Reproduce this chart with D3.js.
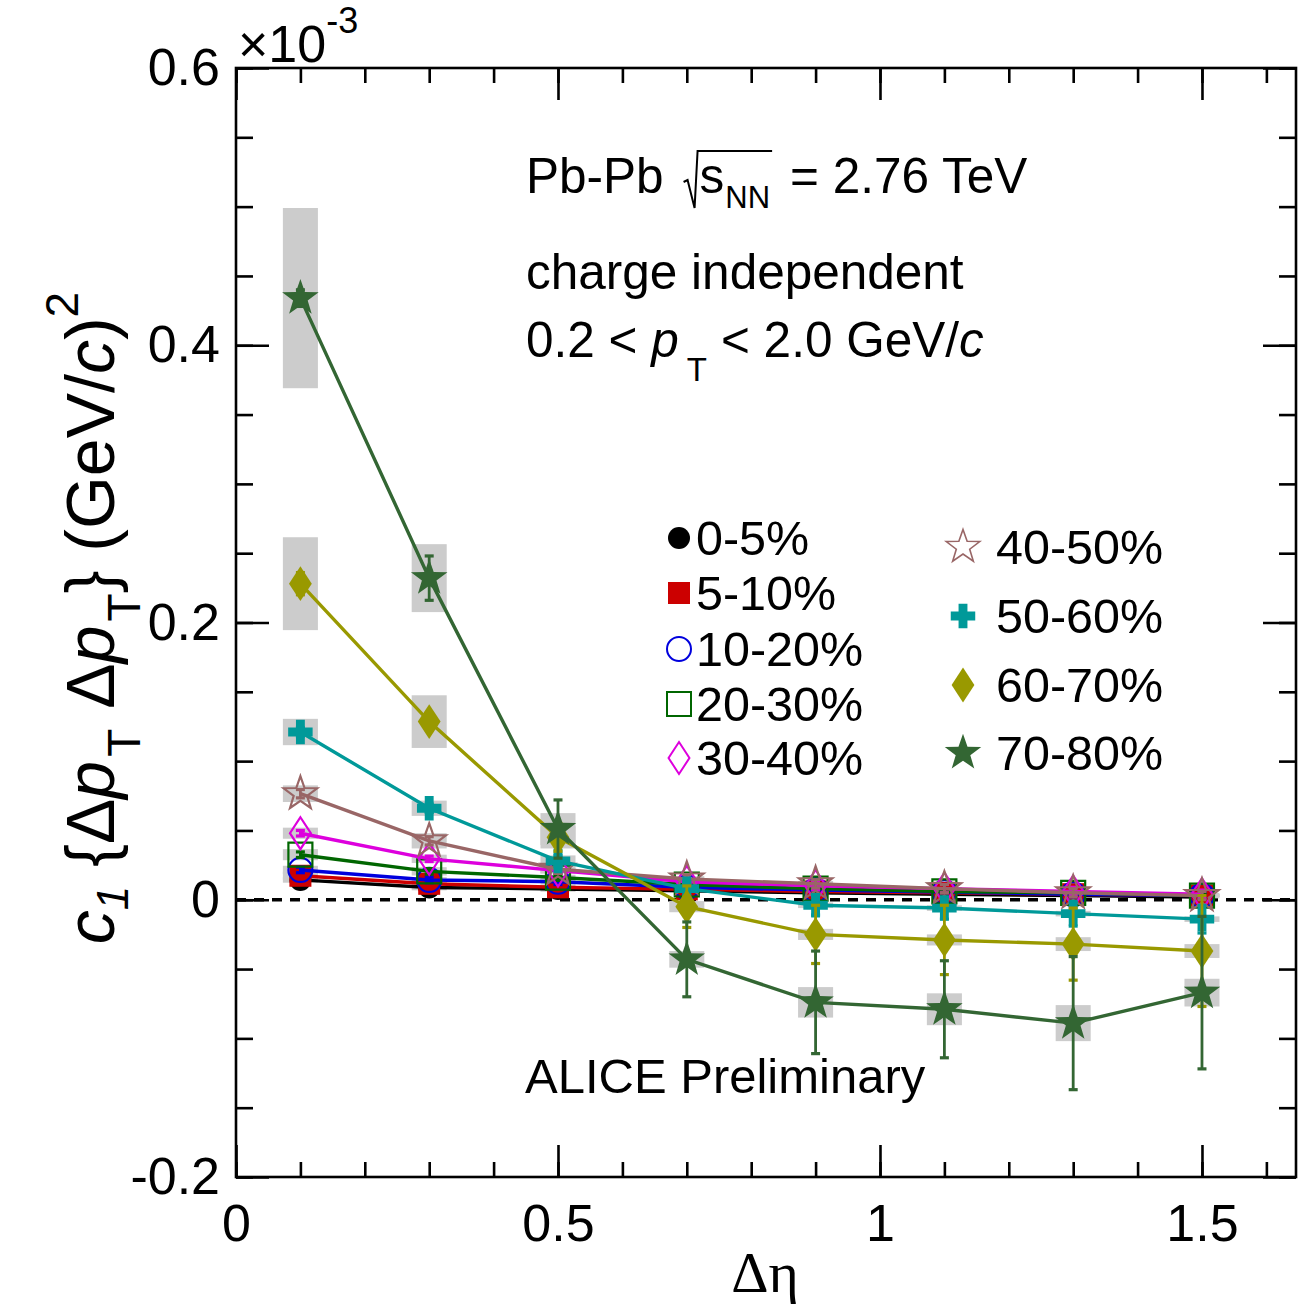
<!DOCTYPE html>
<html><head><meta charset="utf-8">
<script src="https://cdn.jsdelivr.net/npm/d3@7"></script>
<style>
body{margin:0;background:#fff}
svg{display:block}
text{font-family:"Liberation Sans",Arial,Helvetica,sans-serif;fill:#000}
</style>
</head><body>
<svg id="c" width="1303" height="1305"></svg>
<script>
// ---------------- DATA (values in units of 10^-3 (GeV/c)^2) ----------------
const deltaEta = [0.1, 0.3, 0.5, 0.7, 0.9, 1.1, 1.3, 1.5];
const centralityLabels = ["0-5%", "5-10%", "10-20%", "20-30%", "30-40%", "40-50%", "50-60%", "60-70%", "70-80%"];

const val_0_5   = [0.0143, 0.0088, 0.0078, 0.0065, 0.0050, 0.0040, 0.0030, 0.0020];
const val_5_10  = [0.0173, 0.0115, 0.0090, 0.0075, 0.0060, 0.0050, 0.0040, 0.0030];
const val_10_20 = [0.0215, 0.0143, 0.0130, 0.0090, 0.0070, 0.0055, 0.0040, 0.0030];
const val_20_30 = [0.0325, 0.0205, 0.0160, 0.0110, 0.0080, 0.0060, 0.0050, 0.0030];
const val_30_40 = [0.0480, 0.0295, 0.0210, 0.0130, 0.0100, 0.0080, 0.0060, 0.0040];
const val_40_50 = [0.0765, 0.0425, 0.0220, 0.0150, 0.0115, 0.0080, 0.0050, 0.0030];
const val_50_60 = [0.1210, 0.0660, 0.0280, 0.0080, -0.0040, -0.0060, -0.0100, -0.0140];
const val_60_70 = [0.2280, 0.1285, 0.0450, -0.0050, -0.0250, -0.0290, -0.0320, -0.0370];
const val_70_80 = [0.4340, 0.2320, 0.0510, -0.0430, -0.0740, -0.0790, -0.0890, -0.0670];

const stat_0_5   = [0.002, 0.002, 0.002, 0.002, 0.002, 0.002, 0.002, 0.002];
const stat_5_10  = [0.002, 0.002, 0.002, 0.002, 0.002, 0.002, 0.002, 0.002];
const stat_10_20 = [0.002, 0.002, 0.002, 0.002, 0.002, 0.002, 0.002, 0.002];
const stat_20_30 = [0.002, 0.002, 0.002, 0.002, 0.002, 0.002, 0.002, 0.002];
const stat_30_40 = [0.002, 0.002, 0.002, 0.002, 0.003, 0.003, 0.003, 0.003];
const stat_40_50 = [0.003, 0.003, 0.003, 0.003, 0.003, 0.003, 0.003, 0.003];
const stat_50_60 = [0.003, 0.003, 0.004, 0.005, 0.007, 0.008, 0.009, 0.010];
const stat_60_70 = [0.008, 0.006, 0.010, 0.015, 0.021, 0.025, 0.026, 0.040];
const stat_70_80 = [0.006, 0.016, 0.021, 0.027, 0.037, 0.035, 0.048, 0.055];

const sys_0_5   = [0.002, 0.002, 0.002, 0.001, 0.001, 0.001, 0.001, 0.001];
const sys_5_10  = [0.003, 0.002, 0.002, 0.001, 0.001, 0.001, 0.001, 0.001];
const sys_10_20 = [0.003, 0.002, 0.002, 0.001, 0.001, 0.001, 0.001, 0.001];
const sys_20_30 = [0.004, 0.003, 0.002, 0.002, 0.001, 0.001, 0.001, 0.001];
const sys_30_40 = [0.004, 0.003, 0.002, 0.002, 0.001, 0.001, 0.001, 0.001];
const sys_40_50 = [0.006, 0.0055, 0.003, 0.002, 0.002, 0.001, 0.001, 0.001];
const sys_50_60 = [0.0095, 0.0055, 0.004, 0.002, 0.002, 0.002, 0.002, 0.002];
const sys_60_70 = [0.0335, 0.019, 0.008, 0.004, 0.004, 0.004, 0.005, 0.005];
const sys_70_80 = [0.065, 0.0245, 0.0115, 0.006, 0.011, 0.0115, 0.013, 0.010];

const xMajorTicks = [0, 0.5, 1, 1.5];
const yMajorTicks = [-0.2, 0, 0.2, 0.4, 0.6];

// ---------------- STYLES ----------------
const values = [val_0_5, val_5_10, val_10_20, val_20_30, val_30_40, val_40_50, val_50_60, val_60_70, val_70_80];
const stats  = [stat_0_5, stat_5_10, stat_10_20, stat_20_30, stat_30_40, stat_40_50, stat_50_60, stat_60_70, stat_70_80];
const syss   = [sys_0_5, sys_5_10, sys_10_20, sys_20_30, sys_30_40, sys_40_50, sys_50_60, sys_60_70, sys_70_80];
const styles = [
  {color:"#000000", shape:"circle",  fill:true,  s:11},
  {color:"#cc0000", shape:"square",  fill:true,  s:11},
  {color:"#0000dd", shape:"circle",  fill:false, s:12},
  {color:"#006600", shape:"square",  fill:false, s:12},
  {color:"#dd00dd", shape:"diamond", fill:false, s:11},
  {color:"#996666", shape:"star",    fill:false, s:11},
  {color:"#009999", shape:"cross",   fill:true,  s:12},
  {color:"#999900", shape:"diamond", fill:true,  s:12},
  {color:"#336633", shape:"star",    fill:true,  s:12}
];

function shapePath(shape, s) {
  if (shape === "circle") return d3.symbol(d3.symbolCircle, Math.PI * s * s)();
  if (shape === "square") return d3.symbol(d3.symbolSquare, (2 * s) * (2 * s))();
  if (shape === "diamond") {
    const w = s * 0.95, h = s * 1.45;
    return `M0,${-h}L${w},0L0,${h}L${-w},0Z`;
  }
  if (shape === "cross") {
    const a = s * 1.02, t = s * 0.37;
    return `M${-t},${-a}H${t}V${-t}H${a}V${t}H${t}V${a}H${-t}V${t}H${-a}V${-t}H${-t}Z`;
  }
  if (shape === "star") {
    const R = s * 1.6, r = R * 0.40;
    let p = "";
    for (let i = 0; i < 10; i++) {
      const ang = -Math.PI / 2 + i * Math.PI / 5;
      const rad = i % 2 === 0 ? R : r;
      p += (i === 0 ? "M" : "L") + (rad * Math.cos(ang)).toFixed(2) + "," + (rad * Math.sin(ang)).toFixed(2);
    }
    return p + "Z";
  }
}

// ---------------- CHART ----------------
const svg = d3.select("#c");
svg.append("rect").attr("width", 1303).attr("height", 1305).attr("fill", "#fff");

const x = d3.scaleLinear().domain([0, 1.646]).range([236, 1296]);
const y = d3.scaleLinear().domain([-0.2, 0.6]).range([1177, 68]);

const AX = 2.6;
function styleAxis(g) {
  g.attr("font-size", null).attr("font-family", null);
  g.select(".domain").remove();
  g.selectAll(".tick line").attr("stroke", "#000").attr("stroke-width", AX);
  g.selectAll(".tick text").attr("fill", "#000").style("font-size", "52px");
}
const fmtY = d => d === 0 ? "0" : (d < 0 ? "-" : "") + Math.abs(d).toFixed(1);
const fmtX = d => String(d);

// minor ticks
svg.append("g").attr("transform", "translate(0,1177)")
  .call(d3.axisBottom(x).tickValues(d3.range(0, 1.65, 0.1)).tickSizeInner(-15).tickSizeOuter(0).tickFormat(""))
  .call(styleAxis);
svg.append("g").attr("transform", "translate(0,68)")
  .call(d3.axisTop(x).tickValues(d3.range(0, 1.65, 0.1)).tickSizeInner(-15).tickSizeOuter(0).tickFormat(""))
  .call(styleAxis);
svg.append("g").attr("transform", "translate(236,0)")
  .call(d3.axisLeft(y).tickValues(d3.range(-0.2, 0.61, 0.05)).tickSizeInner(-17).tickSizeOuter(0).tickFormat(""))
  .call(styleAxis);
svg.append("g").attr("transform", "translate(1296,0)")
  .call(d3.axisRight(y).tickValues(d3.range(-0.2, 0.61, 0.05)).tickSizeInner(-17).tickSizeOuter(0).tickFormat(""))
  .call(styleAxis);
// major ticks
svg.append("g").attr("transform", "translate(0,1177)")
  .call(d3.axisBottom(x).tickValues(xMajorTicks).tickSizeInner(-32).tickSizeOuter(0).tickPadding(27).tickFormat(fmtX))
  .call(styleAxis);
svg.append("g").attr("transform", "translate(0,68)")
  .call(d3.axisTop(x).tickValues(xMajorTicks).tickSizeInner(-32).tickSizeOuter(0).tickFormat(""))
  .call(styleAxis);
svg.append("g").attr("transform", "translate(236,0)")
  .call(d3.axisLeft(y).tickValues(yMajorTicks).tickSizeInner(-33).tickSizeOuter(0).tickPadding(16).tickFormat(fmtY))
  .call(styleAxis);
svg.append("g").attr("transform", "translate(1296,0)")
  .call(d3.axisRight(y).tickValues(yMajorTicks).tickSizeInner(-33).tickSizeOuter(0).tickFormat(""))
  .call(styleAxis);

// frame
svg.append("rect").attr("x", x(0)).attr("y", y(0.6))
  .attr("width", x(1.646) - x(0)).attr("height", y(-0.2) - y(0.6))
  .attr("fill", "none").attr("stroke", "#000").attr("stroke-width", AX);

// zero line
svg.append("line").attr("x1", x(0)).attr("x2", x(1.646)).attr("y1", y(0)).attr("y2", y(0))
  .attr("stroke", "#000").attr("stroke-width", 3.5).attr("stroke-dasharray", "10,8");

const plot = svg.append("g");
const boxHalf = 0.0272;

// systematic boxes
values.forEach((vals, si) => {
  plot.append("g").selectAll("rect").data(deltaEta).join("rect")
    .attr("x", (d) => x(d - boxHalf))
    .attr("width", x(2 * boxHalf) - x(0))
    .attr("y", (d, i) => y(vals[i] + syss[si][i]))
    .attr("height", (d, i) => y(vals[i] - syss[si][i]) - y(vals[i] + syss[si][i]))
    .attr("fill", "#cccccc");
});

const line = d3.line().x(d => x(d[0])).y(d => y(d[1]));
values.forEach((vals, si) => {
  const st = styles[si];
  const g = plot.append("g");
  const pts = deltaEta.map((d, i) => [d, vals[i]]);
  g.append("path").attr("d", line(pts)).attr("fill", "none")
    .attr("stroke", st.color).attr("stroke-width", 3.4);
  // stat error bars
  const eb = g.append("g").selectAll("g").data(deltaEta).join("g");
  eb.append("line").attr("x1", d => x(d)).attr("x2", d => x(d))
    .attr("y1", (d, i) => y(vals[i] + stats[si][i])).attr("y2", (d, i) => y(vals[i] - stats[si][i]))
    .attr("stroke", st.color).attr("stroke-width", 2.8);
  [1, -1].forEach(sg => {
    eb.append("line").attr("x1", d => x(d) - 4.5).attr("x2", d => x(d) + 4.5)
      .attr("y1", (d, i) => y(vals[i] + sg * stats[si][i])).attr("y2", (d, i) => y(vals[i] + sg * stats[si][i]))
      .attr("stroke", st.color).attr("stroke-width", 3.2);
  });
  // markers
  g.append("g").selectAll("path").data(deltaEta).join("path")
    .attr("transform", (d, i) => `translate(${x(d)},${y(vals[i])})`)
    .attr("d", shapePath(st.shape, st.s))
    .attr("fill", st.fill ? st.color : "none")
    .attr("stroke", st.color).attr("stroke-width", st.fill ? 0 : 2.2);
});

// ---------------- LEGEND ----------------
const legLeft = [0, 1, 2, 3, 4];
const legLeftY = [538, 593, 649, 704, 758];
const legRight = [5, 6, 7, 8];
const legRightY = [547, 616, 685, 753];
const leg = svg.append("g");
legLeft.forEach((si, k) => {
  const st = styles[si];
  leg.append("path").attr("transform", `translate(679,${legLeftY[k]})`)
    .attr("d", shapePath(st.shape, st.s))
    .attr("fill", st.fill ? st.color : "none").attr("stroke", st.color).attr("stroke-width", st.fill ? 0 : 2);
  leg.append("text").attr("x", 696).attr("y", legLeftY[k] + 17).style("font-size", "48.5px").text(centralityLabels[si]);
});
legRight.forEach((si, k) => {
  const st = styles[si];
  leg.append("path").attr("transform", `translate(963,${legRightY[k]})`)
    .attr("d", shapePath(st.shape, st.s))
    .attr("fill", st.fill ? st.color : "none").attr("stroke", st.color).attr("stroke-width", st.fill ? 0 : 1.6);
  leg.append("text").attr("x", 996).attr("y", legRightY[k] + 17).style("font-size", "48.5px").text(centralityLabels[si]);
});

// ---------------- TEXTS ----------------
// x10^-3
const ex = svg.append("text").attr("x", 238).attr("y", 62).style("font-size", "52px");
ex.append("tspan").text("\u00d710");
ex.append("tspan").attr("dy", -29).style("font-size", "36px").text("-3");

// x-axis title
svg.append("text").attr("x", 765).attr("y", 1292).attr("text-anchor", "middle")
  .style("font-family", '"Liberation Serif","Times New Roman",serif').style("font-size", "58px")
  .text("\u0394\u03b7");

// y-axis title
const yt = svg.append("text").attr("transform", "translate(114,618) rotate(-90)")
  .attr("text-anchor", "middle").style("font-size", "68px");
yt.append("tspan").style("font-style", "italic").text("c");
yt.append("tspan").style("font-style", "italic").style("font-size", "44px").attr("dy", 14).text("1");
yt.append("tspan").attr("dy", -14).text(" {\u0394");
yt.append("tspan").style("font-style", "italic").text("p");
yt.append("tspan").style("font-size", "46px").attr("dy", 26).attr("dx", 4).text("T");
yt.append("tspan").attr("dy", -26).attr("dx", 20).text("\u0394");
yt.append("tspan").style("font-style", "italic").text("p");
yt.append("tspan").style("font-size", "46px").attr("dy", 26).attr("dx", 4).text("T");
yt.append("tspan").attr("dy", -26).text("} (GeV/");
yt.append("tspan").style("font-style", "italic").text("c");
yt.append("tspan").text(")");
yt.append("tspan").style("font-size", "46px").attr("dy", -36).text("2");

// Pb-Pb sqrt(s_NN)
const fs = 49.5;
const t1 = svg.append("text").attr("x", 526).attr("y", 193).style("font-size", fs + "px").text("Pb-Pb");
const w1 = t1.node().getComputedTextLength();
const rx = 526 + w1 + 20;
const ts = svg.append("text").attr("x", rx + 16).attr("y", 193).style("font-size", fs + "px").text("s");
const ws = ts.node().getComputedTextLength();
const tn = svg.append("text").attr("x", rx + 16 + ws + 1).attr("y", 208).style("font-size", "31px").text("NN");
const wn = tn.node().getComputedTextLength();
const endNN = rx + 16 + ws + 1 + wn;
svg.append("path")
  .attr("d", `M${rx},${182}L${rx + 4},${180}L${rx + 11},${208}L${rx + 14},${151}L${endNN + 2},${151}`)
  .attr("fill", "none").attr("stroke", "#000").attr("stroke-width", 2);
svg.append("text").attr("x", endNN + 20).attr("y", 193).style("font-size", fs + "px").text("= 2.76 TeV");

svg.append("text").attr("x", 526).attr("y", 289).style("font-size", fs + "px").text("charge independent");

const pt = svg.append("text").attr("x", 526).attr("y", 357).style("font-size", fs + "px");
pt.append("tspan").text("0.2 < ");
pt.append("tspan").style("font-style", "italic").text("p");
pt.append("tspan").style("font-size", "33px").attr("dy", 24).attr("dx", 8).text("T");
pt.append("tspan").attr("dy", -24).attr("dx", 14).text("< 2.0 GeV/");
pt.append("tspan").style("font-style", "italic").text("c");

svg.append("text").attr("x", 525).attr("y", 1093).style("font-size", "49px").text("ALICE Preliminary");
</script>
</body></html>
